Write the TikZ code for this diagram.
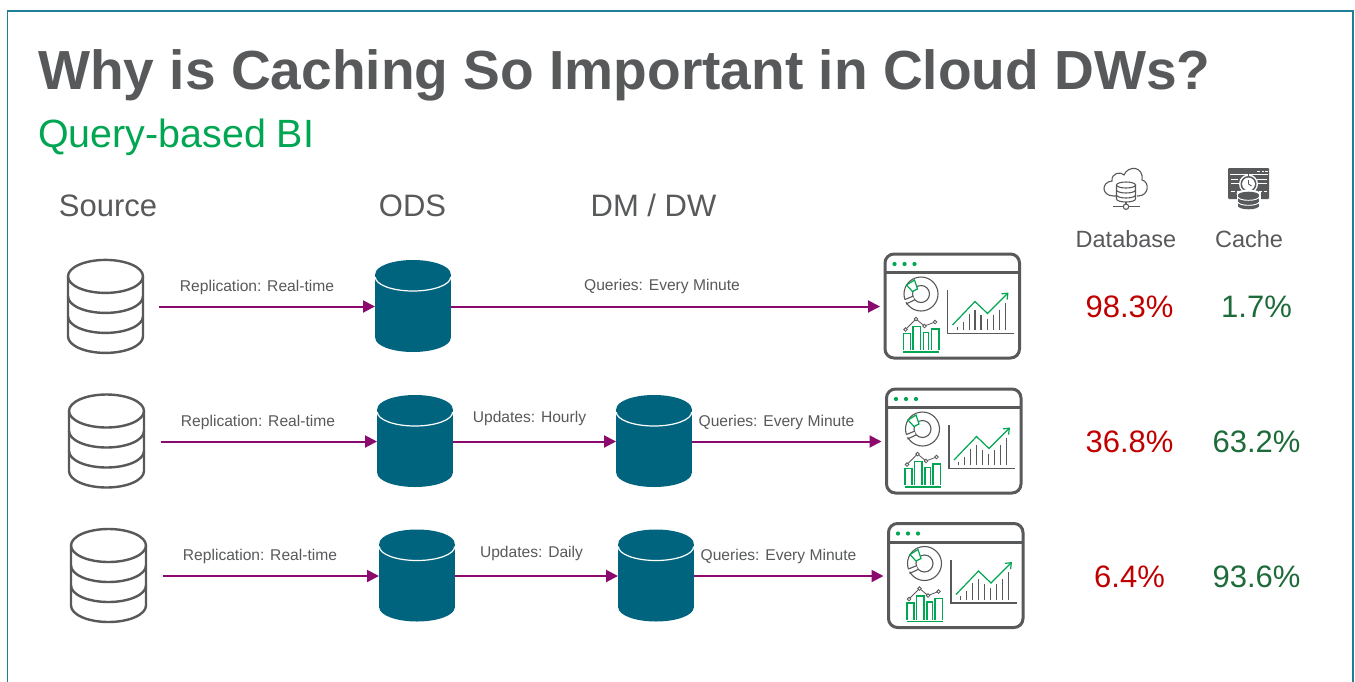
\documentclass[tikz,border=0pt]{standalone}
\usepackage{fontspec}
\setmainfont{Liberation Sans}
\usetikzlibrary{arrows.meta}
\definecolor{tealc}{HTML}{00647F}
\definecolor{framec}{HTML}{1F7F96}
\definecolor{greyc}{HTML}{58595B}
\definecolor{greenc}{HTML}{00A651}
\definecolor{purplec}{HTML}{8B0A6E}
\definecolor{redc}{HTML}{C00000}
\definecolor{dgreenc}{HTML}{1E6B3A}
\tikzset{
  x=1pt,y=-1pt,
  titletxt/.style={font=\bfseries\fontsize{55.1}{60}\selectfont,text=greyc,anchor=west,inner sep=0},
  subtxt/.style={font=\fontsize{39.4}{42}\selectfont,text=greenc,anchor=west,inner sep=0},
  headtxt/.style={font=\fontsize{31}{34}\selectfont,text=greyc,inner sep=0},
  coltxt/.style={font=\fontsize{23.5}{26}\selectfont,text=greyc,inner sep=0},
  edgetxt/.style={font=\fontsize{15.6}{17}\selectfont,text=greyc,inner sep=0},
  pcr/.style={font=\fontsize{31}{34}\selectfont,text=redc,inner sep=0},
  pcg/.style={font=\fontsize{31}{34}\selectfont,text=dgreenc,inner sep=0},
  flow/.style={draw=purplec,line width=2pt,-{Triangle[length=12pt,width=12pt]}},
  srcslot/.style={minimum width=108pt,minimum height=90pt,inner sep=0,outer sep=0},
  odsslot/.style={minimum width=76pt,minimum height=90pt,inner sep=0,outer sep=0},
  dashslot/.style={minimum width=145pt,minimum height=100pt,inner sep=0,outer sep=0},
  srcline/.style={draw=greyc,line width=2.4pt},
  pics/srcdb/.style={code={
    \draw[srcline] (-37.5,-30) -- (-37.5,30) arc[start angle=180,end angle=360,x radius=37.5pt,y radius=16.5pt] -- (37.5,-30);
    \draw[srcline] (0,-30) ellipse[x radius=37.5pt,y radius=16.5pt];
    \draw[srcline] (-37.5,-10) arc[start angle=180,end angle=360,x radius=37.5pt,y radius=16.5pt];
    \draw[srcline] (-37.5,10) arc[start angle=180,end angle=360,x radius=37.5pt,y radius=16.5pt];
  }},
  pics/tealdb/.style={code={
    \fill[tealc] (-37.7,-32) rectangle (37.7,32);
    \fill[tealc] (0,-32) ellipse[x radius=37.7pt,y radius=14pt];
    \fill[tealc] (0,32) ellipse[x radius=37.7pt,y radius=14pt];
    \draw[white,line width=1.2pt] (-37.7,-29) arc[start angle=180,end angle=360,x radius=37.7pt,y radius=14pt];
  }},
  pics/dash/.style={code={
    \draw[greyc,line width=3pt,rounded corners=9pt] (-67.5,-51.5) rectangle (67,52.5);
    \draw[greyc,line width=3pt] (-67.5,-33) -- (67,-33);
    \fill[greenc] (-58,-41.5) circle[radius=2.1pt] (-48,-41.5) circle[radius=2.1pt] (-38,-41.5) circle[radius=2.1pt];
    % donut
    \draw[greyc,line width=1.1pt] (-31.5,-11.5) circle[radius=17pt];
    \draw[greyc,line width=1.1pt] (-31.5,-11.5) circle[radius=8.5pt];
    \draw[white,line width=2.5pt] (-48.5,-4) -- (-39,-7.5);
    \draw[greyc,line width=1.1pt] (-47.5,-6) -- (-39,-9.5);
    \draw[greyc,line width=1.1pt] (-46.5,-1.5) -- (-38,-5.5);
    \draw[greenc,line width=1.2pt,fill=white] (-46,-20.5) -- (-38,-25.5) -- (-35,-16.5) -- (-40,-14) -- cycle;
    % line chart (small)
    \draw[greyc,line width=.8pt] (-47,24) -- (-36.5,13.5) -- (-28,20.5) -- (-17.5,16.5);
    \foreach \px/\py in {-47/24,-36.5/13.5,-28/20.5,-17.5/16.5}
      \draw[greyc,fill=white,line width=.8pt] (\px,\py) circle[radius=1.8pt];
    % small bars
    \draw[greenc,line width=1.2pt] (-49,44.5) -- (-49,28) -- (-42,28) -- (-42,44.5);
    \draw[greenc,line width=1.2pt] (-39.5,44.5) -- (-39.5,21) -- (-32,21) -- (-32,44.5);
    \draw[greenc,line width=1.2pt] (-29,44.5) -- (-29,27) -- (-23.7,27) -- (-23.7,44.5);
    \draw[greenc,line width=1.2pt] (-21,44.5) -- (-21,23.5) -- (-13.5,23.5) -- (-13.5,44.5);
    \draw[greenc,line width=1.2pt] (-49.5,46.5) -- (-13.5,46.5);
    % big chart
    \draw[greyc,line width=1.1pt] (-5,-15.5) -- (-5,28) -- (61,28);
    \foreach \bx/\by in {4.8/21,10.8/16,16.8/8,22.5/4,28.5/9,34.8/13,40.8/9,46.8/4,52.8/-3}
      \draw[greyc,line width=1.2pt] (\bx,\by) -- (\bx,24.5);
    \draw[greenc,line width=1.2pt,-{Straight Barb[length=5pt,width=8pt]}] (0,19.5) -- (22.5,-4) -- (35,8) -- (56,-13);
  }},
  pics/cloudicon/.style={code={
    \draw[greyc,line width=1.1pt] (-12,11) .. controls (-25,11) and (-25,-3) .. (-14,-4)
       .. controls (-15,-12) and (-5,-14) .. (-2,-10)
       .. controls (2,-20) and (18,-19) .. (16,-5)
       .. controls (24,-3) and (23,11) .. (12,11) -- cycle;
    \fill[white] (-10.5,-2) rectangle (10.5,17);
    \draw[greyc,line width=1.1pt] (-9.5,0) -- (-9.5,14) arc[start angle=180,end angle=360,x radius=9.5pt,y radius=3pt] -- (9.5,0);
    \draw[greyc,line width=1.1pt] (0,0) ellipse[x radius=9.5pt,y radius=3pt];
    \draw[greyc,line width=1.1pt] (-9.5,5) arc[start angle=180,end angle=360,x radius=9.5pt,y radius=3pt];
    \draw[greyc,line width=1.1pt] (-9.5,10) arc[start angle=180,end angle=360,x radius=9.5pt,y radius=3pt];
    \draw[greyc,line width=1.1pt] (0,17) -- (0,19);
    \draw[greyc,line width=1.1pt] (-13.5,21.7) -- (-2.7,21.7) (2.7,21.7) -- (13.5,21.7);
    \draw[greyc,line width=1.1pt] (0,21.7) circle[radius=2.7pt];
  }},
  pics/cacheicon/.style={code={
    \fill[greyc,rounded corners=1pt] (-20.5,-19) rectangle (20.5,12);
    \draw[white,line width=.8pt] (-19,-13) -- (19,-13);
    \draw[white,line width=.8pt] (8,-16) -- (11,-16) (13,-16) -- (15,-16) (16.5,-16) -- (19,-16);
    \draw[white,line width=.8pt] (-18,-7.5) -- (-11,-7.5) (-9,-7.5) -- (-7,-7.5) (8,-7.5) -- (18,-7.5);
    \draw[white,line width=.8pt] (-18,-3.5) -- (-8,-3.5) (8,-3.5) -- (18,-3.5);
    \draw[white,line width=.8pt] (-18,4) -- (-14,4) (-12,4) -- (-9,4) (10,4) -- (13,4) (15,4) -- (18,4);
    \fill[white] (0,-3) circle[radius=9.5pt];
    \fill[greyc] (0,-3) circle[radius=8pt];
    \fill[white] (0,-3) circle[radius=6.4pt];
    \draw[greyc,line width=.9pt] (0,-7) -- (0,-3) -- (3,-1);
    \draw[greyc,line width=1.3pt] (0,-14) -- (0,-11);
    \draw[greyc,line width=1.3pt] (0,5) -- (0,7);
    \fill[white] (-12,5) rectangle (12,14);
    \fill[white] (0,7) ellipse[x radius=12pt,y radius=4.5pt];
    \fill[greyc] (-10.5,8) rectangle (10.5,19);
    \fill[greyc] (0,8) ellipse[x radius=10.5pt,y radius=3.3pt];
    \fill[greyc] (0,19) ellipse[x radius=10.5pt,y radius=3.3pt];
    \draw[white,line width=.9pt] (-10.5,10) arc[start angle=180,end angle=360,x radius=10.5pt,y radius=3.3pt];
    \draw[white,line width=.9pt] (-10.5,15) arc[start angle=180,end angle=360,x radius=10.5pt,y radius=3.3pt];
  }},
}
\begin{document}
\begin{tikzpicture}
\useasboundingbox (0,0) rectangle (1355,681);
\fill[white] (0,0) rectangle (1355,681);
\draw[framec,line width=1.6pt] (7.5,700) -- (7.5,11) -- (1353,11) -- (1353,700);

\node[titletxt] (title) at (38,75) {Why is Caching So Important in Cloud DWs?};
\node[subtxt] (sub) at (38,137) {Query-based BI};
\node[headtxt] (hsrc) at (108,206) {Source};
\node[headtxt] (hods) at (412.5,206) {ODS};
\node[headtxt] (hdm) at (653.5,205.5) {DM / DW};
\node[coltxt] (hdb) at (1126,239) {Database};
\node[coltxt] (hca) at (1249,239) {Cache};
\pic at (1126,185) {cloudicon};
\pic at (1248.5,187) {cacheicon};

% row 1
\pic at (105.5,306.4) {srcdb};
\pic at (413,306) {tealdb};
\pic at (952.5,305.5) {dash};
\node[srcslot] (s1) at (105,306.5) {};
\node[odsslot] (o1) at (413,306.5) {};
\node[dashslot] (d1) at (952.5,306.5) {};
\draw[flow] (s1) -- (o1);
\draw[flow] (o1) -- (d1);
\node[edgetxt] (l1a) at (257,287.5) {Replication: Real-time};
\node[edgetxt] (l1b) at (662,286.5) {Queries: Every Minute};
\node[pcr] (p1a) at (1129.5,307) {98.3\%};
\node[pcg] (p1b) at (1256.5,307) {1.7\%};

% row 2
\pic at (106.5,441) {srcdb};
\pic at (415,441) {tealdb};
\pic at (654,441) {tealdb};
\pic at (954,440.5) {dash};
\node[srcslot] (s2) at (106.5,441.5) {};
\node[odsslot] (o2) at (415,441.5) {};
\node[odsslot] (m2) at (654,441.5) {};
\node[dashslot] (d2) at (954,441.5) {};
\draw[flow] (s2) -- (o2);
\draw[flow] (o2) -- (m2);
\draw[flow] (m2) -- (d2);
\node[edgetxt] (l2a) at (258,422) {Replication: Real-time};
\node[edgetxt] (l2b) at (529.5,418.5) {Updates: Hourly};
\node[edgetxt] (l2c) at (776.5,422) {Queries: Every Minute};
\node[pcr] (p2a) at (1129.5,442) {36.8\%};
\node[pcg] (p2b) at (1256.5,442) {63.2\%};

% row 3
\pic at (108.5,575.5) {srcdb};
\pic at (417,575.5) {tealdb};
\pic at (656,575.5) {tealdb};
\pic at (956,575) {dash};
\node[srcslot] (s3) at (108.5,576) {};
\node[odsslot] (o3) at (417,576) {};
\node[odsslot] (m3) at (656,576) {};
\node[dashslot] (d3) at (956,576) {};
\draw[flow] (s3) -- (o3);
\draw[flow] (o3) -- (m3);
\draw[flow] (m3) -- (d3);
\node[edgetxt] (l3a) at (260,556) {Replication: Real-time};
\node[edgetxt] (l3b) at (531.5,553) {Updates: Daily};
\node[edgetxt] (l3c) at (778.5,556) {Queries: Every Minute};
\node[pcr] (p3a) at (1129.5,577) {6.4\%};
\node[pcg] (p3b) at (1256.5,577) {93.6\%};
\end{tikzpicture}
\end{document}
